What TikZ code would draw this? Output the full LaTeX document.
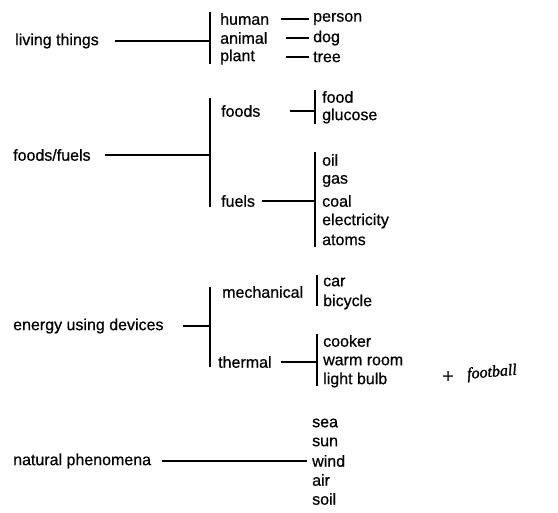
\documentclass[tikz,border=0pt]{standalone}
\usepackage{fontspec}
\setmainfont{Liberation Sans}[FakeBold=0.6]
\newfontfamily\handfont{Liberation Serif}[FakeBold=1.5]
\begin{document}
\begin{tikzpicture}[x=1pt,y=-1pt,
  lbl/.style={anchor=west,inner sep=0pt,font=\fontsize{16}{18}\selectfont},
  ln/.style={line width=1.4pt}]
\useasboundingbox (0,0) rectangle (558,513);
% living things
\node[lbl] (lt) at (15,41) {living things};
\coordinate (b1t) at (210,12); \coordinate (b1b) at (210,64);
\draw[ln] (b1t) -- (b1b);
\draw[ln] (115,0 |- lt) -- (b1t |- lt);
\node[lbl] (human) at (220,19) {human};
\node[lbl] (animal) at (220,38) {animal};
\node[lbl] (plant) at (220,57) {plant};
\node[lbl] (person) at (313,19) {person};
\node[lbl] (dog) at (313,38) {dog};
\node[lbl] (tree) at (313,57) {tree};
\draw[ln] (281,0 |- human) -- (309,0 |- person);
\draw[ln] (286,0 |- animal) -- (309,0 |- dog);
\draw[ln] (286,0 |- plant) -- (309,0 |- tree);
% foods/fuels
\node[lbl] (ff) at (13,155) {foods/fuels};
\coordinate (b2t) at (210,98); \coordinate (b2b) at (210,207);
\draw[ln] (b2t) -- (b2b);
\draw[ln] (105,0 |- ff) -- (b2t |- ff);
\node[lbl] (foods) at (221,111) {foods};
\node[lbl] (fuels) at (221,201) {fuels};
\coordinate (b3t) at (315,90); \coordinate (b3b) at (315,124);
\draw[ln] (b3t) -- (b3b);
\draw[ln] (290,0 |- foods) -- (b3t |- foods);
\node[lbl] (food) at (322,97) {food};
\node[lbl] (glucose) at (322,116) {glucose};
\coordinate (b4t) at (315,152); \coordinate (b4b) at (315,247);
\draw[ln] (b4t) -- (b4b);
\draw[ln] (262,0 |- fuels) -- (b4t |- fuels);
\node[lbl] (oil) at (322,160) {oil};
\node[lbl] (gas) at (322,181) {gas};
\node[lbl] (coal) at (322,201) {coal};
\node[lbl] (elec) at (322,221) {electricity};
\node[lbl] (atoms) at (322,240) {atoms};
% energy using devices
\node[lbl] (eud) at (13,326) {energy using devices};
\coordinate (b5t) at (210,287); \coordinate (b5b) at (210,367);
\draw[ln] (b5t) -- (b5b);
\draw[ln] (183,0 |- eud) -- (b5t |- eud);
\node[lbl] (mech) at (222,292) {mechanical};
\node[lbl] (therm) at (218,362) {thermal};
\coordinate (b6t) at (317,275); \coordinate (b6b) at (317,306);
\draw[ln] (b6t) -- (b6b);
\node[lbl] (car) at (323,282) {car};
\node[lbl] (bicycle) at (323,302) {bicycle};
\coordinate (b7t) at (317,334); \coordinate (b7b) at (317,386);
\draw[ln] (b7t) -- (b7b);
\draw[ln] (281,0 |- therm) -- (b7t |- therm);
\node[lbl] (cooker) at (323,341) {cooker};
\node[lbl] (warm) at (323,361) {warm room};
\node[lbl] (bulb) at (323,380) {light bulb};
% handwritten note
\node[inner sep=0pt,font=\handfont\fontsize{20}{22}\selectfont] (plus) at (448,377) {+};
\node[anchor=west,inner sep=0pt,rotate=5,font=\handfont\itshape\fontsize{16}{18}\selectfont] (fb) at (467,375) {football};
% natural phenomena
\node[lbl] (np) at (13,461) {natural phenomena};
\node[lbl] (sea) at (312,423) {sea};
\node[lbl] (sun) at (312,442) {sun};
\node[lbl] (wind) at (312,461) {wind};
\node[lbl] (air) at (312,480) {air};
\node[lbl] (soil) at (312,499) {soil};
\draw[ln] (162,0 |- np) -- (307,0 |- wind);
\end{tikzpicture}
\end{document}
